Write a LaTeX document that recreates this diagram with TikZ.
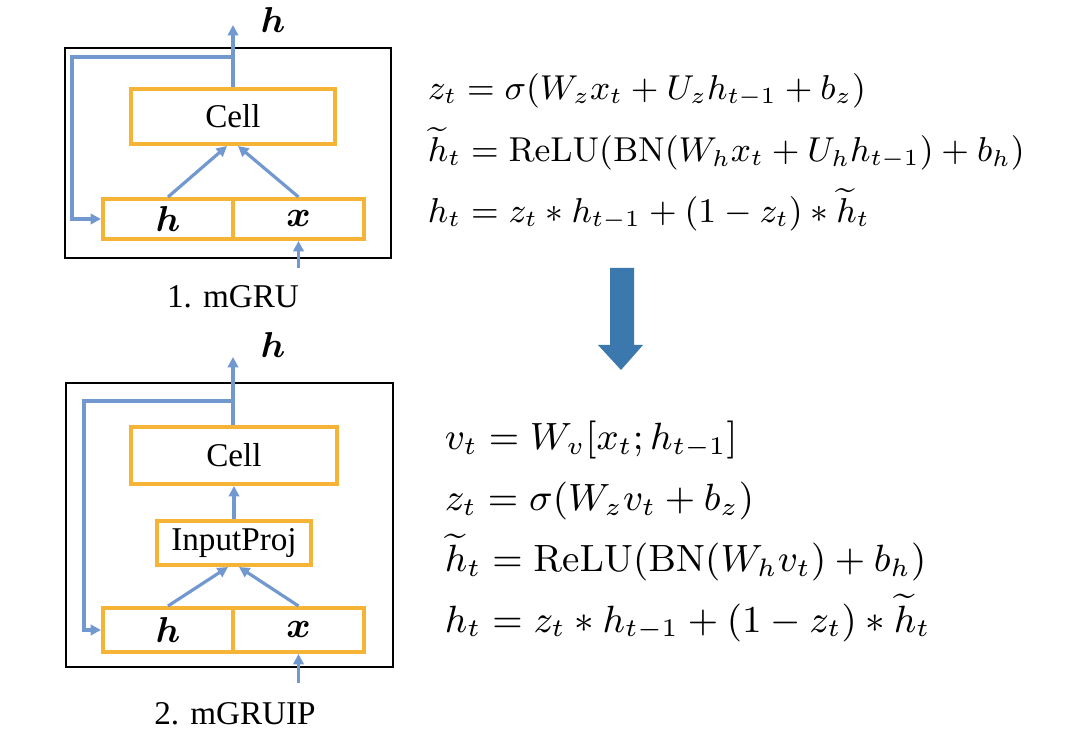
\documentclass[tikz,border=0pt]{standalone}
\usepackage{amsmath}
\usepackage{amssymb}
\usepackage{bm}
\usepackage{graphicx}
\usepackage[no-math]{fontspec}
\setmainfont{Liberation Serif}
\usepackage{xcolor}
\usepackage{tikz}
\usetikzlibrary{arrows.meta,positioning,calc}

\definecolor{boxorange}{HTML}{F6B436}
\definecolor{flowblue}{HTML}{7199CF}
\definecolor{bigblue}{HTML}{3B78AE}

\newcommand{\lblfont}{\fontsize{8.3}{10}\selectfont}
\newcommand{\varfont}{\fontsize{9}{10}\selectfont}
\newcommand{\eqfontA}{\fontsize{9}{11}\selectfont}
\newcommand{\eqfontB}{\fontsize{9}{11}\selectfont}
\newcommand{\eqA}[1]{\scalebox{0.96}{$#1$}}
\newcommand{\eqB}[1]{\scalebox{1.055}{$#1$}}

\tikzset{
  unitbox/.style={draw=boxorange, line width=1pt, fill=white, inner sep=0pt, font=\lblfont},
  varbox/.style={unitbox, font=\varfont},
  outerbox/.style={draw=black, line width=0.5pt, inner sep=0pt},
  flow/.style={draw=flowblue, line width=0.8pt, -{Triangle[length=2.6pt,width=2.6pt]}},
  eqline/.style={anchor=base west, inner sep=0pt, font=\eqfontA},
  eqlineB/.style={eqline, font=\eqfontB}
}

\begin{document}
\begin{tikzpicture}[x=0.25pt, y=-0.25pt]
\useasboundingbox (0,0) rectangle (1080,736);

% ---------- 1. mGRU ----------
\node[outerbox, minimum width=81.5pt, minimum height=52.5pt] (outerA) at (228,153) {};
\node[unitbox, minimum width=51pt, minimum height=13.75pt] (cellA) at (233,116.5) {Cell};
\node[varbox, minimum width=32.5pt, minimum height=10pt] (hA) at (168,219) {$\bm{h}$};
\node[varbox, minimum width=32.75pt, minimum height=10pt] (xA) at (298.5,219) {$\bm{x}$};

\coordinate (outA) at (233,25);
\coordinate (jA) at (233,57);
\coordinate (cA) at (72,57);
\coordinate (inA) at (298.5,268);

\draw[flow] (cellA.north) -- (outA);
\draw[flow] (jA) -- (cA) |- (hA.west);
\draw[flow] (hA.north) -- ($(cellA.south)+(-6,0)$);
\draw[flow] (xA.north) -- ($(cellA.south)+(5,0)$);
\draw[flow] (inA) -- (xA.south);

\node[font=\varfont] (topA) at (273,20) {$\bm{h}$};
\node[font=\lblfont] (nameA) at (233,297) {1. mGRU};

% ---------- 2. mGRUIP ----------
\node[outerbox, minimum width=81.75pt, minimum height=71pt] (outerB) at (229.5,525) {};
\node[unitbox, minimum width=51.5pt, minimum height=14.25pt] (cellB) at (234,455.5) {Cell};
\node[unitbox, minimum width=38.5pt, minimum height=11pt] (projB) at (234,543) {InputProj};
\node[varbox, minimum width=32.5pt, minimum height=11pt] (hB) at (168,630) {$\bm{h}$};
\node[varbox, minimum width=32.75pt, minimum height=11pt] (xB) at (298.5,630) {$\bm{x}$};

\coordinate (outB) at (233,357);
\coordinate (jB) at (233,401);
\coordinate (cB) at (84,401);
\coordinate (inB) at (298.5,683);

\draw[flow] (cellB.north -| outB) -- (outB);
\draw[flow] (jB) -- (cB) |- (hB.west);
\draw[flow] (projB.north) -- (cellB.south);
\draw[flow] (hB.north) -- ($(projB.south)+(-6,0)$);
\draw[flow] (xB.north) -- ($(projB.south)+(5,0)$);
\draw[flow] (inB) -- (xB.south);

\node[font=\varfont] (topB) at (273,345) {$\bm{h}$};
\node[font=\lblfont] (nameB) at (235,714) {2. mGRUIP};

% ---------- big arrow ----------
\fill[bigblue] (610,268) -- (634,268) -- (634,345) -- (643,345) -- (621,370)
  -- (598,345) -- (610,345) -- cycle;

% ---------- equations ----------
\node[eqline] (eqA1) at (427,100) {\eqA{z_t = \sigma(W_z x_t + U_z h_{t-1} + b_z)}};
\node[eqline] (eqA2) at (427,162) {\eqA{\widetilde{h}_t = \mathrm{ReLU}(\mathrm{BN}(W_h x_t + U_h h_{t-1}) + b_h)}};
\node[eqline] (eqA3) at (427,223) {\eqA{h_t = z_t * h_{t-1} + (1 - z_t) * \widetilde{h}_t}};

\node[eqlineB] (eqB1) at (444,450) {\eqB{v_t = W_v[x_t ; h_{t-1}]}};
\node[eqlineB] (eqB2) at (444,511) {\eqB{z_t = \sigma(W_z v_t + b_z)}};
\node[eqlineB] (eqB3) at (444,572) {\eqB{\widetilde{h}_t = \mathrm{ReLU}(\mathrm{BN}(W_h v_t) + b_h)}};
\node[eqlineB] (eqB4) at (444,632) {\eqB{h_t = z_t * h_{t-1} + (1 - z_t) * \widetilde{h}_t}};

\end{tikzpicture}
\end{document}
